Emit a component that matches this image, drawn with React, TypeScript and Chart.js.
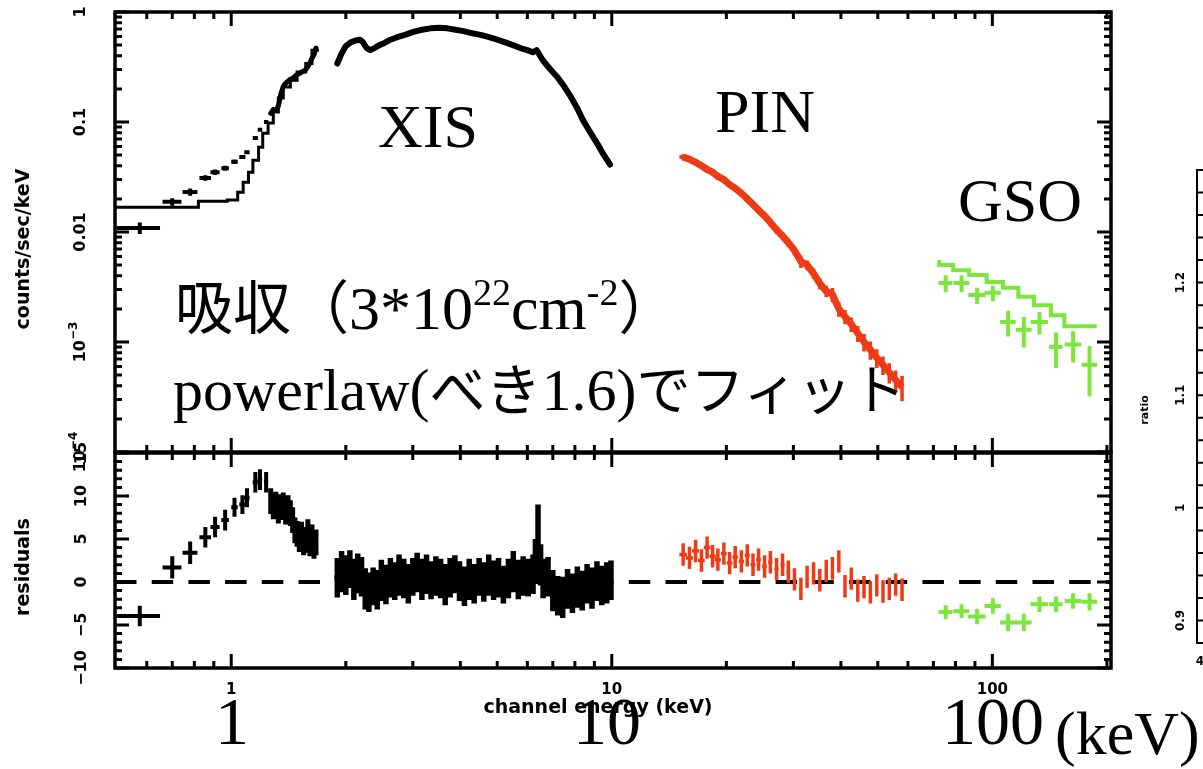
import React, { useEffect, useRef } from "react";
import { Chart, registerables } from "chart.js";

Chart.register(...registerables);

// ---------------- page geometry ----------------
const W = 1203;
const H = 769;
const TOP_H = 480;
const BOT_TOP = 440;
const BOT_H = 329;

// ---------------- axis ranges & ticks ----------------
const E_MIN = 0.495;
const E_MAX = 205;
const SPEC_MIN = 1e-4;
const SPEC_MAX = 1;
const RES_MIN = -10;
const RES_MAX = 15;
const RATIO_MIN = 0.88;
const RATIO_MAX = 1.3;

const X_MAJOR_TICKS = [1, 10, 100];
const X_MINOR_TICKS = [0.6, 0.7, 0.8, 0.9, 2, 3, 4, 5, 6, 7, 8, 9, 20, 30, 40, 50, 60, 70, 80, 90, 200];
const X_TICK_LABELS = ["1", "10", "100"];
const SPEC_TICK_VALUES = [1, 0.1, 0.01, 0.001, 0.0001];
const SPEC_TICK_LABELS = ["1", "0.1", "0.01", "10", "10"];
const SPEC_TICK_EXPONENTS = ["", "", "", "−3", "−4"];
const SPEC_MINOR_MANTISSAS = [2, 3, 4, 5, 6, 7, 8, 9];
const RES_TICK_VALUES = [-10, -5, 0, 5, 10, 15];
const RES_TICK_LABELS = ["−10", "−5", "0", "5", "10", "15"];
const RATIO_TICK_VALUES = [0.9, 1, 1.1, 1.2];
const RATIO_TICK_LABELS = ["0.9", "1", "1.1", "1.2"];

// ---------------- colours ----------------
const C_XIS = "#000000";
const C_PIN = "#ee3b15";
const C_GSO = "#7ce63c";

// ---------------- XIS low-energy data ----------------
const XIS_LO_E = [0.575, 0.7, 0.78, 0.855, 0.907, 0.964, 1.02, 1.07, 1.1, 1.157, 1.19, 1.235];
const XIS_LO_DE = [0.075, 0.04, 0.035, 0.03, 0.025, 0.022, 0.02, 0.02, 0.018, 0.018, 0.016, 0.016];
const XIS_LO_V = [0.0109, 0.0188, 0.0231, 0.031, 0.035, 0.038, 0.0435, 0.048, 0.053, 0.0716, 0.085, 0.1];
const XIS_LO_DV = [0.0013, 0.0015, 0.0017, 0.0018, 0.002, 0.002, 0.002, 0.002, 0.0022, 0.0028, 0.003, 0.0035];
const XIS_LO_RES = [-3.95, 1.7, 3.4, 5.2, 6.4, 7.2, 8.7, 9.0, 9.8, 11.6, 11.9, 11.6];
const XIS_LO_RES_ERR = [1.2, 1.3, 1.3, 1.2, 1.2, 1.2, 1.1, 1.1, 1.1, 1.2, 1.2, 1.2];

const XIS_LO2_E = [1.27, 1.29, 1.31, 1.33, 1.35, 1.37, 1.39, 1.41, 1.43, 1.45, 1.47, 1.49, 1.51, 1.53, 1.55, 1.57, 1.59, 1.61, 1.63, 1.65, 1.67];
const XIS_LO2_V = [0.12, 0.13, 0.128, 0.14, 0.18, 0.21, 0.225, 0.235, 0.245, 0.25, 0.26, 0.27, 0.275, 0.285, 0.29, 0.3, 0.32, 0.345, 0.38, 0.41, 0.47];
const XIS_LO2_RES = [9.4, 8.8, 9.0, 8.3, 8.7, 8.9, 8.2, 8.6, 8.0, 7.2, 6.0, 5.6, 5.0, 5.5, 4.6, 4.9, 5.8, 4.5, 5.2, 4.2, 4.6];
const XIS_LO2_RES_ERR = 1.5;
const XIS_LO2_HALF = 0.012;

const XIS_MODEL_E = [0.495, 0.82, 0.976, 1.04, 1.075, 1.11, 1.14, 1.18, 1.21, 1.25, 1.29, 1.33, 1.37, 1.43, 1.49, 1.57, 1.63, 1.68, 1.7];
const XIS_MODEL_V = [0.0158, 0.0168, 0.019, 0.0195, 0.023, 0.0284, 0.035, 0.045, 0.059, 0.079, 0.098, 0.123, 0.165, 0.208, 0.24, 0.285, 0.34, 0.45, 0.45];

// ---------------- XIS 1.9-10 keV ----------------
const XIS_HI_E = [1.9, 1.95, 2.0, 2.06, 2.12, 2.18, 2.22, 2.27, 2.32, 2.38, 2.45, 2.52, 2.62, 2.73, 2.86, 3.01, 3.17, 3.34, 3.52, 3.7, 3.88, 4.08, 4.3, 4.52, 4.76, 5.0, 5.25, 5.5, 5.75, 6.0, 6.2, 6.35, 6.45, 6.6, 6.9, 7.2, 7.5, 7.8, 8.1, 8.4, 8.75, 9.15, 9.5, 9.9];
const XIS_HI_V = [0.34, 0.42, 0.49, 0.53, 0.55, 0.56, 0.53, 0.47, 0.45, 0.47, 0.5, 0.52, 0.56, 0.59, 0.62, 0.66, 0.69, 0.71, 0.72, 0.71, 0.69, 0.67, 0.64, 0.62, 0.59, 0.56, 0.53, 0.5, 0.47, 0.45, 0.43, 0.45, 0.41, 0.36, 0.3, 0.255, 0.21, 0.17, 0.135, 0.104, 0.082, 0.064, 0.051, 0.041];

const XIS_HI_RES_E = [1.9, 1.95, 2.0, 2.05, 2.1, 2.15, 2.2, 2.25, 2.3, 2.36, 2.42, 2.48, 2.55, 2.62, 2.69, 2.76, 2.84, 2.92, 3.0, 3.08, 3.17, 3.26, 3.35, 3.45, 3.55, 3.65, 3.76, 3.87, 3.98, 4.1, 4.22, 4.35, 4.48, 4.61, 4.75, 4.89, 5.04, 5.19, 5.35, 5.51, 5.68, 5.85, 6.03, 6.21, 6.3, 6.4, 6.5, 6.6, 6.8, 7.0, 7.21, 7.43, 7.65, 7.88, 8.12, 8.36, 8.61, 8.87, 9.14, 9.41, 9.7, 9.95];
const XIS_HI_RES = [0.5, 1.2, 0.8, 1.5, 0.3, 1.0, 0.6, -0.8, -1.2, -0.5, -0.9, 0.2, -0.3, 0.5, 0.1, 0.8, 0.4, -0.2, 0.6, 1.1, 0.3, 0.9, 0.2, 0.7, 0.4, -0.3, 0.5, 0.9, 0.1, -0.5, 0.3, -0.2, 0.6, 0.0, 0.8, 0.2, 0.5, -0.3, 0.4, 1.2, 0.3, 0.7, 0.5, 0.9, 2.5, 5.0, 2.0, 0.4, 0.6, -1.0, -1.6, -1.8, -0.8, -1.3, -0.6, -1.0, -0.2, -0.7, 0.1, -0.4, -0.1, 0.2];
const XIS_HI_RES_ERR = [2.3, 2.4, 2.3, 2.2, 2.4, 2.3, 2.3, 2.4, 2.3, 2.2, 2.3, 2.4, 2.3, 2.3, 2.2, 2.4, 2.3, 2.3, 2.2, 2.3, 2.4, 2.3, 2.2, 2.3, 2.3, 2.4, 2.3, 2.2, 2.3, 2.3, 2.4, 2.3, 2.2, 2.3, 2.4, 2.3, 2.3, 2.2, 2.3, 2.4, 2.3, 2.3, 2.2, 2.3, 2.5, 4.0, 2.4, 2.3, 2.3, 2.4, 2.3, 2.4, 2.3, 2.3, 2.4, 2.3, 2.3, 2.4, 2.3, 2.3, 2.4, 2.3];
const XIS_HI_RES_HALF = 0.035;

// ---------------- PIN ----------------
const PIN_E = [15.4, 16.0, 16.6, 17.2, 17.8, 18.4, 19.0, 19.7, 20.4, 21.1, 21.9, 22.7, 23.5, 24.3, 25.2, 26.1, 27.1, 28.1, 29.1, 30.2, 31.4, 32.6, 33.9, 35.2, 36.6, 38.0, 39.5, 41.0, 42.6, 44.3, 46.0, 47.8, 49.7, 51.6, 53.6, 55.7, 57.9];
const PIN_V = [0.048, 0.046, 0.043, 0.04, 0.037, 0.035, 0.032, 0.03, 0.027, 0.025, 0.0225, 0.02, 0.0178, 0.0158, 0.014, 0.0122, 0.0105, 0.0092, 0.008, 0.0068, 0.0054, 0.005, 0.0042, 0.0034, 0.0029, 0.0027, 0.002, 0.0017, 0.00145, 0.0012, 0.001, 0.00085, 0.00072, 0.00062, 0.00053, 0.00045, 0.00039];
const PIN_DV = [0.003, 0.003, 0.0028, 0.0026, 0.0024, 0.0023, 0.0021, 0.002, 0.0018, 0.0017, 0.0016, 0.0014, 0.0013, 0.0012, 0.0011, 0.001, 0.0009, 0.0008, 0.0007, 0.0006, 0.0007, 0.0005, 0.00045, 0.0004, 0.00035, 0.0004, 0.0003, 0.00025, 0.00022, 0.0002, 0.00018, 0.00016, 0.00014, 0.00012, 0.00011, 0.0001, 0.0001];
const PIN_RES = [3.2, 2.8, 3.6, 2.5, 4.0, 3.0, 2.6, 3.3, 2.2, 2.9, 2.4, 3.1, 2.0, 2.6, 1.8, 2.3, 1.5, 2.0, 1.2, 0.3, -0.8, 0.6, 1.0, 0.2, 1.3, 1.6, 2.4, -0.5, 0.4, -1.0, -0.6, -1.2, -0.4, -1.1, -0.8, -0.3, -0.9];
const PIN_RES_ERR = 1.3;
const PIN_HALF = 0.35;

// ---------------- GSO ----------------
const GSO_EDGES = [72.5, 78.9, 86.9, 96.6, 106.6, 117, 128.6, 142.5, 154.6, 171, 188];
const GSO_MODEL = [0.00556, 0.005, 0.0045, 0.00406, 0.00352, 0.00312, 0.00258, 0.00216, 0.00175, 0.00139, 0.00139];
const GSO_E = [75.4, 83, 91.2, 100.3, 110, 121, 133, 147, 163, 180];
const GSO_DE = [3.2, 4.0, 4.8, 5.0, 5.2, 5.8, 7.0, 6.0, 8.2, 8.5];
const GSO_V = [0.00344, 0.00344, 0.00267, 0.0028, 0.00152, 0.00129, 0.00152, 0.0009, 0.00095, 0.00062];
const GSO_DV = [0.0006, 0.0006, 0.00045, 0.00045, 0.0004, 0.0004, 0.00035, 0.00032, 0.0003, 0.0003];
const GSO_RES = [-3.5, -3.4, -4.0, -2.8, -4.7, -4.7, -2.6, -2.6, -2.2, -2.3];
const GSO_RES_ERR = [0.8, 0.8, 0.9, 0.9, 1.0, 1.0, 0.9, 0.9, 0.9, 1.0];

// ---------------- zero line & ratio fragment ----------------
const ZERO_E = [E_MIN, E_MAX];
const ZERO_V = [0, 0];
const RATIO_X = [0, 1];
const RATIO_V = [1, 1];

// ---------------- helpers ----------------
const pts = (xs: number[], ys: number[]) => xs.map((x, i) => ({ x, y: ys[i] }));
const FONT = "'DejaVu Sans', 'Liberation Sans', sans-serif";

function rotText(ctx: CanvasRenderingContext2D, cx: number, cy: number, text: string, sup: string, size: number) {
  ctx.save();
  ctx.translate(cx, cy);
  ctx.rotate(-Math.PI / 2);
  const f = `bold ${size}px ${FONT}`;
  const fs = `bold ${Math.round(size * 0.72)}px ${FONT}`;
  ctx.font = f;
  const w1 = ctx.measureText(text).width;
  ctx.font = fs;
  const w2 = sup ? ctx.measureText(sup).width : 0;
  const x0 = -(w1 + w2) / 2;
  ctx.textAlign = "left";
  ctx.textBaseline = "middle";
  ctx.fillStyle = "#000";
  ctx.font = f;
  ctx.fillText(text, x0, 0);
  if (sup) {
    ctx.font = fs;
    ctx.fillText(sup, x0 + w1, -size * 0.45);
  }
  ctx.restore();
}

const errorBars = {
  id: "errorBars",
  afterDatasetsDraw(chart: any) {
    const { ctx, chartArea: a } = chart;
    const xs = chart.scales.x;
    const ys = chart.scales.y;
    ctx.save();
    ctx.beginPath();
    ctx.rect(a.left, a.top, a.right - a.left, a.bottom - a.top);
    ctx.clip();
    chart.data.datasets.forEach((ds: any) => {
      const eb = ds.errorBars;
      if (!eb) return;
      ctx.strokeStyle = ds.borderColor;
      ctx.lineWidth = eb.width;
      ctx.lineCap = "butt";
      ctx.beginPath();
      ds.data.forEach((p: any, i: number) => {
        const dx = Array.isArray(eb.xErr) ? eb.xErr[i] : eb.xErr;
        const dy = Array.isArray(eb.yErr) ? eb.yErr[i] : eb.yErr;
        const px = xs.getPixelForValue(p.x);
        const py = ys.getPixelForValue(p.y);
        const lowY = p.y - dy;
        const y1 = ys.type === "logarithmic" && lowY <= 0 ? a.bottom : ys.getPixelForValue(lowY);
        const y2 = ys.getPixelForValue(p.y + dy);
        ctx.moveTo(xs.getPixelForValue(p.x - dx), py);
        ctx.lineTo(xs.getPixelForValue(p.x + dx), py);
        ctx.moveTo(px, y1);
        ctx.lineTo(px, y2);
      });
      ctx.stroke();
    });
    ctx.restore();
  },
};

function drawXTicks(ctx: CanvasRenderingContext2D, xs: any, a: any) {
  X_MAJOR_TICKS.forEach((v) => {
    const p = xs.getPixelForValue(v);
    ctx.moveTo(p, a.top); ctx.lineTo(p, a.top + 14);
    ctx.moveTo(p, a.bottom); ctx.lineTo(p, a.bottom - 14);
  });
  X_MINOR_TICKS.forEach((v) => {
    const p = xs.getPixelForValue(v);
    ctx.moveTo(p, a.top); ctx.lineTo(p, a.top + 7);
    ctx.moveTo(p, a.bottom); ctx.lineTo(p, a.bottom - 7);
  });
}

function hTick(ctx: CanvasRenderingContext2D, a: any, p: number, len: number, both = true) {
  ctx.moveTo(a.left, p); ctx.lineTo(a.left + len, p);
  if (both) { ctx.moveTo(a.right, p); ctx.lineTo(a.right - len, p); }
}

const topAxes = {
  id: "topAxes",
  afterDatasetsDraw(chart: any) {
    const { ctx, chartArea: a } = chart;
    const xs = chart.scales.x;
    const ys = chart.scales.y;
    ctx.save();
    ctx.strokeStyle = "#000";
    ctx.lineWidth = 3;
    ctx.beginPath();
    drawXTicks(ctx, xs, a);
    SPEC_TICK_VALUES.forEach((v) => hTick(ctx, a, ys.getPixelForValue(v), 14));
    SPEC_TICK_VALUES.slice(1).forEach((d) => {
      SPEC_MINOR_MANTISSAS.forEach((m) => hTick(ctx, a, ys.getPixelForValue(m * d), 7));
    });
    ctx.stroke();
    ctx.lineWidth = 3.5;
    ctx.strokeRect(a.left, a.top, a.right - a.left, a.bottom - a.top);
    SPEC_TICK_VALUES.forEach((v, i) => rotText(ctx, 81, ys.getPixelForValue(v), SPEC_TICK_LABELS[i], SPEC_TICK_EXPONENTS[i], 16));
    rotText(ctx, 24, 249, "counts/sec/keV", "", 19);
    ctx.restore();
  },
};

const bottomAxes = {
  id: "bottomAxes",
  afterDatasetsDraw(chart: any) {
    const { ctx, chartArea: a } = chart;
    const xs = chart.scales.x;
    const ys = chart.scales.y;
    ctx.save();
    ctx.strokeStyle = "#000";
    ctx.lineWidth = 3;
    ctx.beginPath();
    drawXTicks(ctx, xs, a);
    for (let v = RES_MIN; v <= RES_MAX; v++) {
      hTick(ctx, a, ys.getPixelForValue(v), v % 5 === 0 ? 14 : 7);
    }
    ctx.stroke();
    ctx.lineWidth = 3.5;
    ctx.strokeRect(a.left, a.top, a.right - a.left, a.bottom - a.top);
    RES_TICK_VALUES.forEach((v, i) => rotText(ctx, 82, ys.getPixelForValue(v), RES_TICK_LABELS[i], "", 16));
    rotText(ctx, 24, 567 - BOT_TOP, "residuals", "", 19);
    ctx.fillStyle = "#000";
    ctx.textAlign = "center";
    ctx.textBaseline = "middle";
    ctx.font = `bold 15px ${FONT}`;
    X_MAJOR_TICKS.forEach((v, i) => ctx.fillText(X_TICK_LABELS[i], xs.getPixelForValue(v), 690 - BOT_TOP));
    ctx.font = `bold 19px ${FONT}`;
    ctx.fillText("channel energy (keV)", 598, 708 - BOT_TOP);
    ctx.restore();
  },
};

const ratioAxes = {
  id: "ratioAxes",
  afterDatasetsDraw(chart: any) {
    const { ctx, chartArea: a } = chart;
    const ys = chart.scales.y;
    ctx.save();
    ctx.strokeStyle = "#000";
    ctx.lineWidth = 2;
    ctx.beginPath();
    for (let k = 0; k <= 21; k++) {
      const v = RATIO_MIN + k * 0.02;
      const major = RATIO_TICK_VALUES.some((t) => Math.abs(t - v) < 1e-6);
      hTick(ctx, a, ys.getPixelForValue(v), major ? 11 : 6, false);
    }
    ctx.stroke();
    ctx.strokeRect(a.left, a.top, a.right - a.left, a.bottom - a.top);
    RATIO_TICK_VALUES.forEach((v, i) => rotText(ctx, 81, ys.getPixelForValue(v), RATIO_TICK_LABELS[i], "", 12));
    rotText(ctx, 45, 410, "ratio", "", 11);
    ctx.fillStyle = "#000";
    ctx.font = `bold 12px ${FONT}`;
    ctx.textAlign = "center";
    ctx.textBaseline = "middle";
    ctx.fillText("4", 100, 662);
    ctx.restore();
  },
};

const baseOptions = (padding: any, yType: string, yMin: number, yMax: number, xType = "logarithmic", xMin = E_MIN, xMax = E_MAX) => ({
  responsive: false,
  animation: false as const,
  events: [] as any[],
  layout: { padding },
  plugins: { legend: { display: false }, tooltip: { enabled: false } },
  elements: { point: { radius: 0 }, line: { tension: 0 } },
  scales: {
    x: { type: xType, min: xMin, max: xMax, display: false },
    y: { type: yType, min: yMin, max: yMax, display: false },
  },
});

function makeTop(canvas: HTMLCanvasElement) {
  return new Chart(canvas, {
    type: "line",
    data: {
      datasets: [
        { data: pts(XIS_MODEL_E, XIS_MODEL_V), borderColor: C_XIS, borderWidth: 3, stepped: "after", fill: false },
        { data: pts(XIS_LO_E, XIS_LO_V), borderColor: C_XIS, showLine: false, errorBars: { xErr: XIS_LO_DE, yErr: XIS_LO_DV, width: 4 } },
        { data: pts(XIS_LO2_E, XIS_LO2_V), borderColor: C_XIS, borderWidth: 5, borderJoinStyle: "round", borderCapStyle: "round" },
        { data: pts(XIS_HI_E, XIS_HI_V), borderColor: C_XIS, borderWidth: 6, borderJoinStyle: "round", borderCapStyle: "round" },
        { data: pts(PIN_E, PIN_V), borderColor: C_PIN, borderWidth: 7, borderJoinStyle: "round", errorBars: { xErr: PIN_HALF, yErr: PIN_DV, width: 3.5 } },
        { data: pts(GSO_EDGES, GSO_MODEL), borderColor: C_GSO, borderWidth: 4, stepped: "after" },
        { data: pts(GSO_E, GSO_V), borderColor: C_GSO, showLine: false, errorBars: { xErr: GSO_DE, yErr: GSO_DV, width: 4 } },
      ] as any,
    },
    options: baseOptions({ left: 115, right: W - 1111, top: 12, bottom: TOP_H - 452 }, "logarithmic", SPEC_MIN, SPEC_MAX) as any,
    plugins: [errorBars, topAxes],
  });
}

function makeBottom(canvas: HTMLCanvasElement) {
  return new Chart(canvas, {
    type: "line",
    data: {
      datasets: [
        { data: pts(XIS_LO_E, XIS_LO_RES), borderColor: C_XIS, showLine: false, errorBars: { xErr: XIS_LO_DE, yErr: XIS_LO_RES_ERR, width: 4 } },
        { data: pts(XIS_LO2_E, XIS_LO2_RES), borderColor: C_XIS, showLine: false, errorBars: { xErr: XIS_LO2_HALF, yErr: XIS_LO2_RES_ERR, width: 5 } },
        { data: pts(XIS_HI_RES_E, XIS_HI_RES), borderColor: C_XIS, showLine: false, errorBars: { xErr: XIS_HI_RES_HALF, yErr: XIS_HI_RES_ERR, width: 5.5 } },
        { data: pts(PIN_E, PIN_RES), borderColor: C_PIN, showLine: false, errorBars: { xErr: PIN_HALF, yErr: PIN_RES_ERR, width: 3.5 } },
        { data: pts(GSO_E, GSO_RES), borderColor: C_GSO, showLine: false, errorBars: { xErr: GSO_DE, yErr: GSO_RES_ERR, width: 4 } },
        { data: pts(ZERO_E, ZERO_V), borderColor: "#000", borderWidth: 4, borderDash: [21.5, 15.2], order: 10 },
      ] as any,
    },
    options: baseOptions({ left: 115, right: W - 1111, top: 453 - BOT_TOP, bottom: BOT_TOP + BOT_H - 668 }, "linear", RES_MIN, RES_MAX) as any,
    plugins: [errorBars, bottomAxes],
  });
}

function makeRatio(canvas: HTMLCanvasElement) {
  return new Chart(canvas, {
    type: "line",
    data: {
      datasets: [{ data: pts(RATIO_X, RATIO_V), borderColor: C_GSO, borderWidth: 1.5 }] as any,
    },
    options: baseOptions({ left: 97, right: 0, top: 170, bottom: H - 643 }, "linear", RATIO_MIN, RATIO_MAX, "linear", 0, 1) as any,
    plugins: [ratioAxes],
  });
}

const SERIF = "'Liberation Serif', 'Times New Roman', serif";
const CJK = "'Noto Sans CJK JP', 'Noto Sans CJK SC', sans-serif";

export default function App() {
  const topRef = useRef<HTMLCanvasElement>(null);
  const botRef = useRef<HTMLCanvasElement>(null);
  const ratioRef = useRef<HTMLCanvasElement>(null);

  useEffect(() => {
    const charts = [makeTop(topRef.current!), makeBottom(botRef.current!), makeRatio(ratioRef.current!)];
    return () => charts.forEach((c) => c.destroy());
  }, []);

  return (
    <div style={{ position: "absolute", left: 0, top: 0, width: W, height: H, overflow: "hidden", background: "#fff" }}>
      <canvas ref={ratioRef} width={400} height={H} style={{ position: "absolute", left: 1100, top: 0 }} />
      <canvas ref={topRef} width={W} height={TOP_H} style={{ position: "absolute", left: 0, top: 0 }} />
      <canvas ref={botRef} width={W} height={BOT_H} style={{ position: "absolute", left: 0, top: BOT_TOP }} />
      <svg width={W} height={H} style={{ position: "absolute", left: 0, top: 0, pointerEvents: "none" }}>
        <g fill="#000" fontFamily={SERIF}>
          <text x={378} y={147} fontSize={62}>XIS</text>
          <text x={715} y={132} fontSize={62}>PIN</text>
          <text x={958} y={221} fontSize={62}>GSO</text>
          <text x={175} y={329} fontSize={62}>
            <tspan fontFamily={CJK} fontSize={58}>吸収（</tspan>
            <tspan>3*10</tspan>
            <tspan fontSize={38} dy={-24}>22</tspan>
            <tspan dy={24}>cm</tspan>
            <tspan fontSize={38} dy={-24}>-2</tspan>
            <tspan dy={24} fontFamily={CJK} fontSize={58}>）</tspan>
          </text>
          <text x={173} y={410} fontSize={60}>
            <tspan>powerlaw(</tspan>
            <tspan fontFamily={CJK} fontSize={56}>べき</tspan>
            <tspan>1.6)</tspan>
            <tspan fontFamily={CJK} fontSize={54}>でフィット</tspan>
          </text>
          <text x={215} y={744} fontSize={68}>1</text>
          <text x={573} y={744} fontSize={68}>10</text>
          <text x={942} y={744} fontSize={68}>100</text>
          <text x={1055} y={754} fontSize={62}>(keV)</text>
        </g>
      </svg>
    </div>
  );
}
